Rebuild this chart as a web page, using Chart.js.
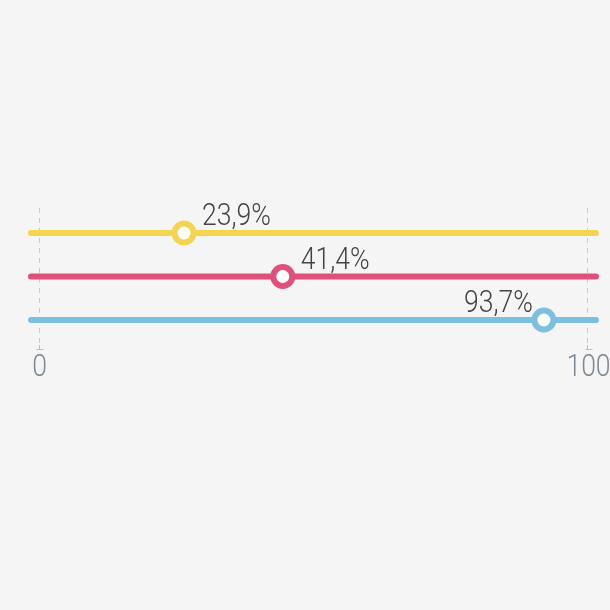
<!DOCTYPE html>
<html>
<head>
<meta charset="utf-8">
<script src="https://cdn.jsdelivr.net/npm/chart.js@4/dist/chart.umd.min.js"></script>
<style>
  html, body { margin: 0; padding: 0; background: #f5f5f5; }
  #wrap { width: 610px; height: 610px; }
</style>
</head>
<body>
<div id="wrap"><canvas id="plot"></canvas></div>
<script>
// valores
const rotulos = ['23,9%', '41,4%', '93,7%']
const posicoes = [26.4, 44.4, 92.0]      // onde o marcador aparece no eixo 0-100
const linhas = [1, 2, 3]                  // ordem de cima para baixo
const cores = ['#f4d451', '#e14f7c', '#7dbfe3']
const ticksEixo = [0, 100]

const xMin = -1.5
const xMax = 101.5

// texto estreito: Roboto Light comprimido na horizontal
function textoEstreito(ctx, txt, x, y, alinhamento) {
    const esc = 0.83
    const w = ctx.measureText(txt).width * esc
    let x0 = x
    if (alinhamento === 'right') x0 = x - w
    if (alinhamento === 'center') x0 = x - w / 2
    ctx.save()
    ctx.translate(x0, y)
    ctx.scale(esc, 1)
    ctx.textAlign = 'left'
    ctx.fillText(txt, 0, 0)
    ctx.restore()
    return w
}

const datasets = linhas.map((y, i) => ({
    label: rotulos[i],
    data: [{x: xMin, y: y}, {x: posicoes[i], y: y}, {x: xMax, y: y}],
    borderColor: cores[i],
    borderWidth: 6,
    borderCapStyle: 'round',
    pointRadius: [0, 9.5, 0],
    pointHoverRadius: [0, 9.5, 0],
    pointBorderWidth: 6,
    pointBackgroundColor: '#ffffff',
    pointBorderColor: cores[i],
    clip: false
}))

// escreve o percentual ao lado de cada marcador e os rotulos do eixo
const rotuloPlugin = {
    id: 'rotulos',
    afterDatasetsDraw(chart) {
        const ctx = chart.ctx
        ctx.save()
        ctx.font = '300 32px Roboto'
        ctx.fillStyle = '#444444'
        ctx.textBaseline = 'alphabetic'
        chart.data.datasets.forEach((ds, i) => {
            const p = chart.getDatasetMeta(i).data[1]
            const w = ctx.measureText(rotulos[i]).width * 0.83
            if (p.x + 18 + w > chart.width) {
                textoEstreito(ctx, rotulos[i], p.x - 11, p.y - 8, 'right')
            } else {
                textoEstreito(ctx, rotulos[i], p.x + 18, p.y - 8, 'left')
            }
        })

        const sx = chart.scales.x
        const base = chart.chartArea.bottom
        ctx.fillStyle = '#7f8a94'
        ctx.strokeStyle = '#bdbdbd'
        ctx.lineWidth = 1
        ticksEixo.forEach(v => {
            const px = Math.round(sx.getPixelForValue(v)) + 0.5
            ctx.beginPath()
            ctx.moveTo(px - 3, base + 4.5)
            ctx.lineTo(px + 4, base + 4.5)
            ctx.stroke()
            textoEstreito(ctx, String(v), px, base + 31, 'center')
        })
        ctx.restore()
    }
}

const grafico = new Chart(document.getElementById('plot'), {
    type: 'line',
    data: { datasets: datasets },
    options: {
        responsive: true,
        maintainAspectRatio: false,
        animation: false,
        events: [],
        layout: { padding: { top: 208, left: 31, right: 14, bottom: 260 } },
        plugins: { legend: { display: false }, tooltip: { enabled: false } },
        scales: {
            x: {
                type: 'linear',
                min: xMin,
                max: xMax,
                afterBuildTicks: (scale) => { scale.ticks = ticksEixo.map(v => ({value: v})) },
                border: { display: false, dash: [5, 5] },
                grid: {
                    color: '#c9c9c9',
                    lineWidth: 1,
                    drawTicks: true,
                    tickLength: 5,
                    tickColor: '#bdbdbd',
                    tickBorderDash: []
                },
                ticks: { display: false }
            },
            y: {
                display: false,
                reverse: true,
                min: 0.425,
                max: 3.575
            }
        }
    },
    plugins: [rotuloPlugin]
})
</script>
</body>
</html>
